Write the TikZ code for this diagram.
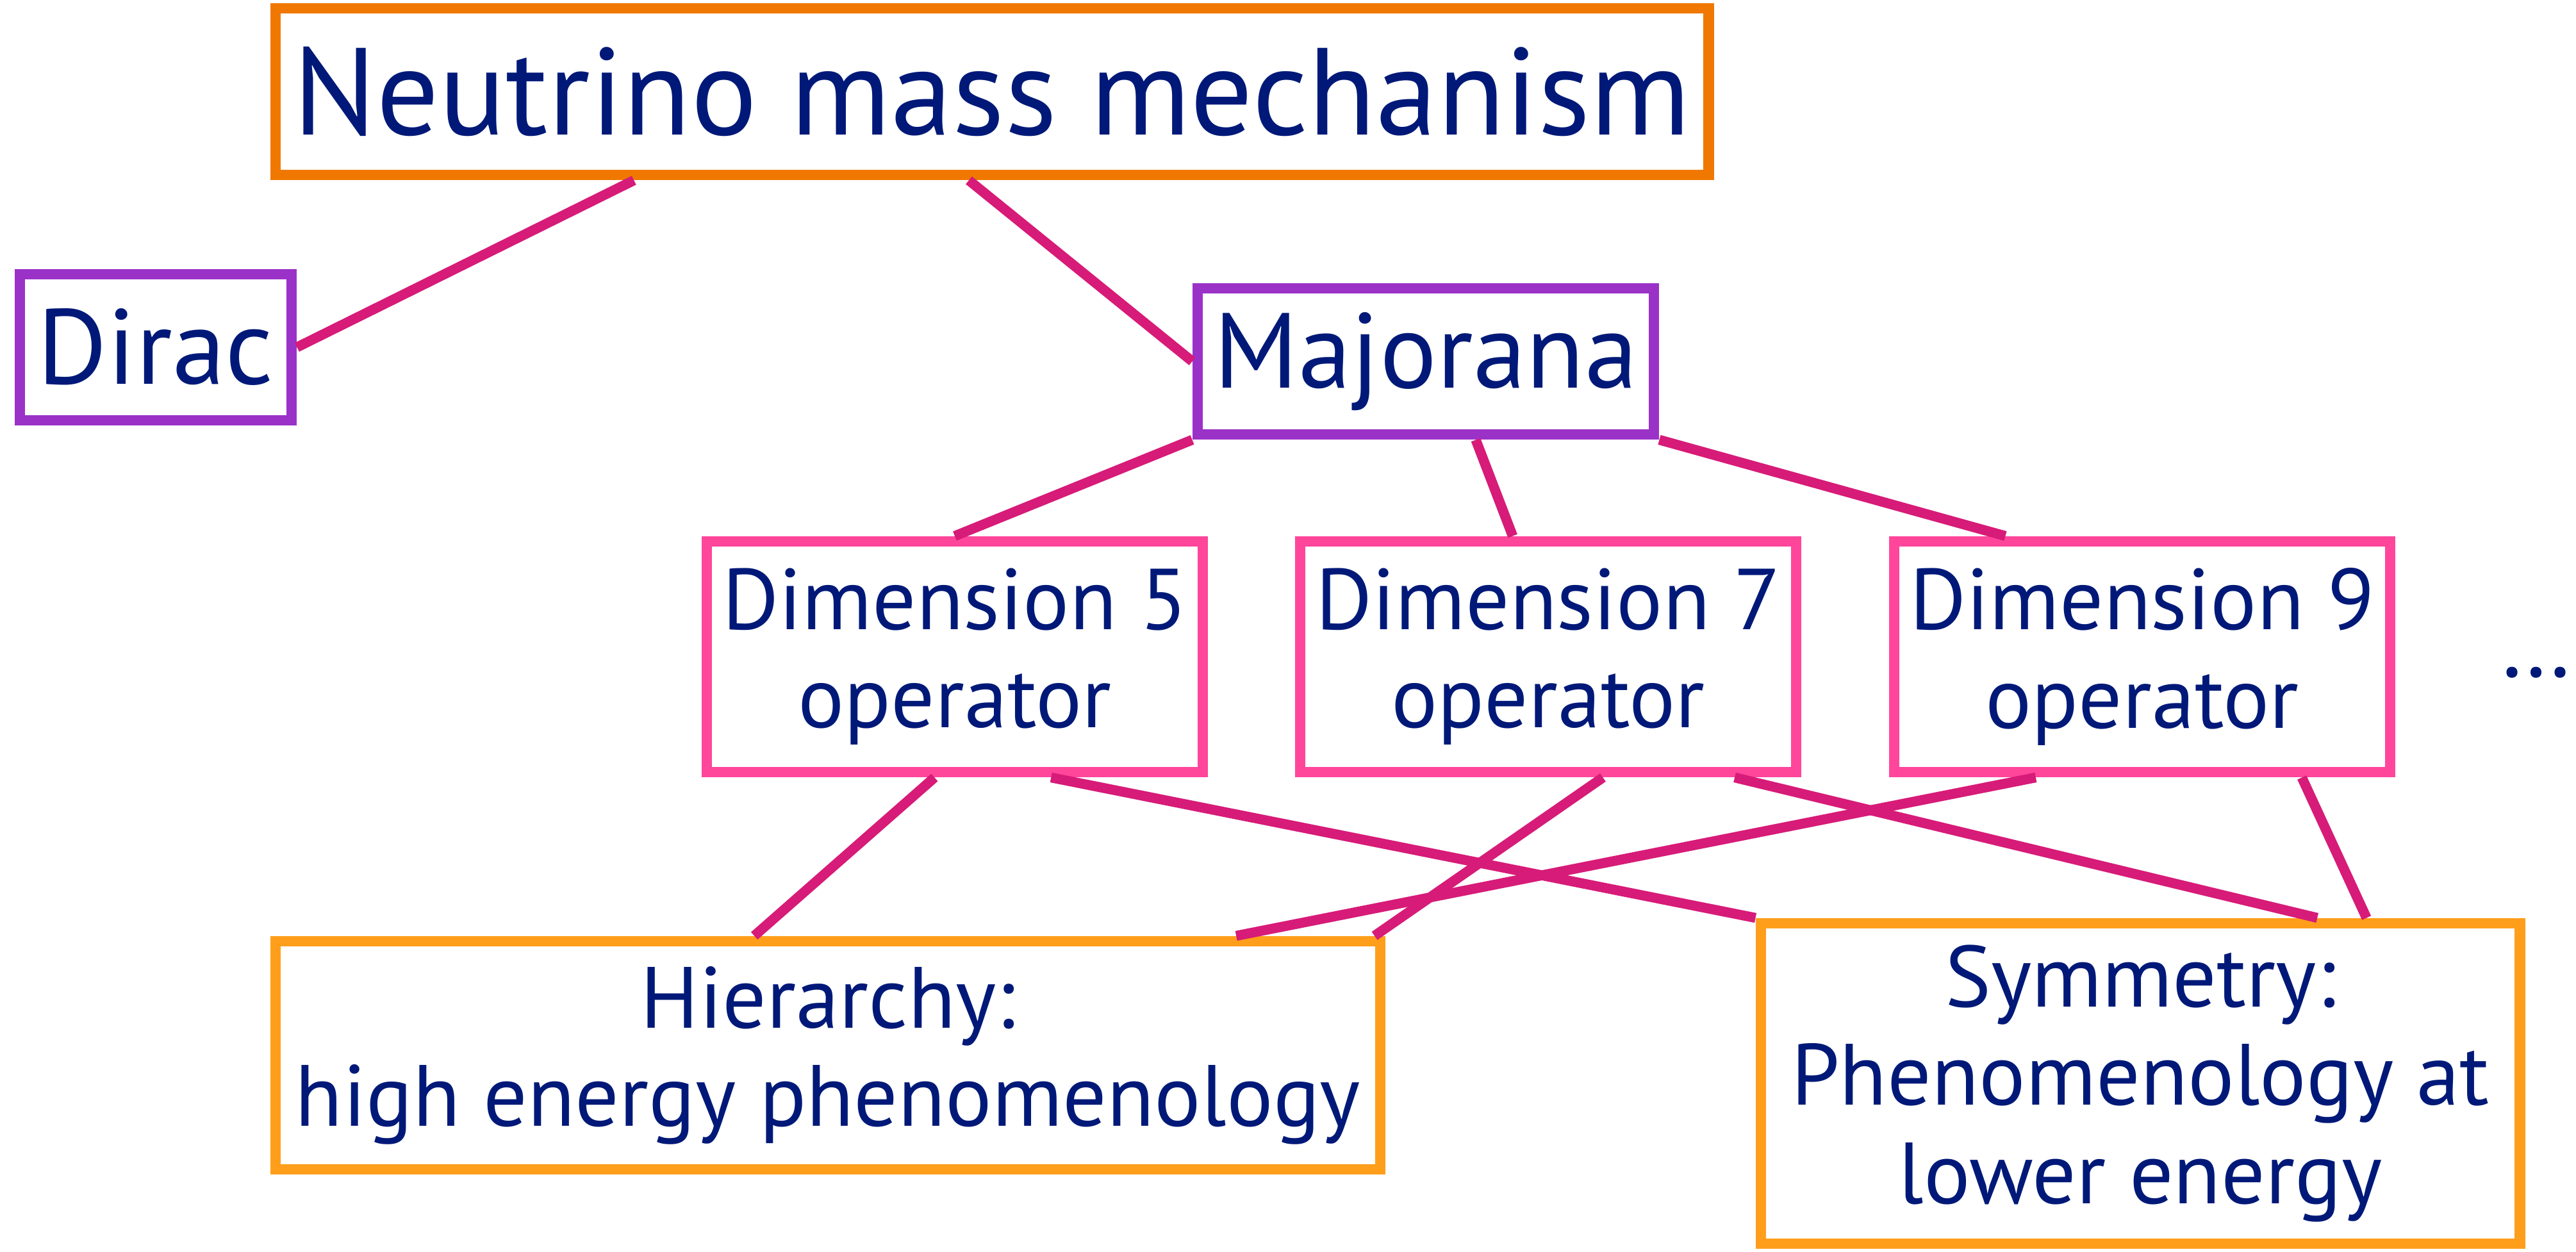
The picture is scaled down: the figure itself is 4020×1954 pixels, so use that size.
\documentclass[tikz,border=0pt]{standalone}
\usepackage{fontspec}
\setmainfont{PT Sans}
\usetikzlibrary{positioning, calc}

\definecolor{navytext}{RGB}{0,25,120}
\definecolor{mechorange}{RGB}{240,120,0}
\definecolor{typepurple}{RGB}{155,50,200}
\definecolor{oppink}{RGB}{255,70,155}
\definecolor{linkpink}{RGB}{215,27,120}
\definecolor{physorange}{RGB}{255,158,27}

\begin{document}
\begin{tikzpicture}[
    x=0.05mm, y=-0.05mm,
    box/.style={
        rectangle, draw, fill=white, line width=2.4pt,
        align=center, text=navytext, inner sep=0pt
    },
    mechbox/.style={box, draw=mechorange, minimum width=111.8mm, minimum height=13mm,
        font=\fontsize{27.5}{32}\selectfont},
    typebox/.style={box, draw=typepurple, minimum height=11.4mm,
        font=\fontsize{23.7}{28}\selectfont},
    opbox/.style={box, draw=oppink, minimum width=38.7mm, minimum height=18mm,
        font=\fontsize{19.2}{21.8}\selectfont},
    physbox/.style={box, draw=physorange, font=\fontsize{19.3}{21.8}\selectfont},
    link/.style={draw=linkpink, line width=2.2pt},
]
\useasboundingbox (0,0) rectangle (4020,1954);

\node[mechbox] (mech) at (1548,143) {Neutrino mass mechanism};

\node[typebox, minimum width=21.2mm] (dirac) at (243,542) {Dirac};
\node[typebox, minimum width=35.6mm] (major) at (2225,564) {Majorana};

\node[opbox] (dimfive) at (1490,1025) {Dimension 5\\operator};
\node[opbox] (dimseven) at (2416,1025) {Dimension 7\\operator};
\node[opbox] (dimnine) at (3343,1025) {Dimension 9\\operator};
\node[text=navytext, font=\fontsize{21}{24}\selectfont] (dots) at (3957,1050) {\dots};

\node[physbox, minimum width=86.2mm, minimum height=17.8mm] (hier) at (1292,1647)
    {Hierarchy:\\high energy phenomenology};
\node[physbox, minimum width=59.2mm, minimum height=25mm] (sym) at (3340,1691)
    {Symmetry:\\Phenomenology at\\lower energy};

% Links
\draw[link] ($(mech.south west)!0.252!(mech.south east)$) -- (dirac.east);
\draw[link] ($(mech.south west)!0.484!(mech.south east)$) -- (major.west);
\draw[link] (major.south west) -- (dimfive.north);
\draw[link] ($(major.south west)!0.607!(major.south east)$) -- ($(dimseven.north west)!0.43!(dimseven.north east)$);
\draw[link] (major.south east) -- ($(dimnine.north west)!0.23!(dimnine.north east)$);
\draw[link] ($(dimfive.south west)!0.46!(dimfive.south east)$) -- ($(hier.north west)!0.434!(hier.north east)$);
\draw[link] ($(dimfive.south west)!0.69!(dimfive.south east)$) -- (sym.north west);
\draw[link] ($(dimseven.south west)!0.608!(dimseven.south east)$) -- ($(hier.north west)!0.99!(hier.north east)$);
\draw[link] ($(dimseven.south west)!0.868!(dimseven.south east)$) -- ($(sym.north west)!0.73!(sym.north east)$);
\draw[link] ($(dimnine.south west)!0.29!(dimnine.south east)$) -- ($(hier.north west)!0.866!(hier.north east)$);
\draw[link] ($(dimnine.south west)!0.815!(dimnine.south east)$) -- ($(sym.north west)!0.794!(sym.north east)$);

\end{tikzpicture}
\end{document}
